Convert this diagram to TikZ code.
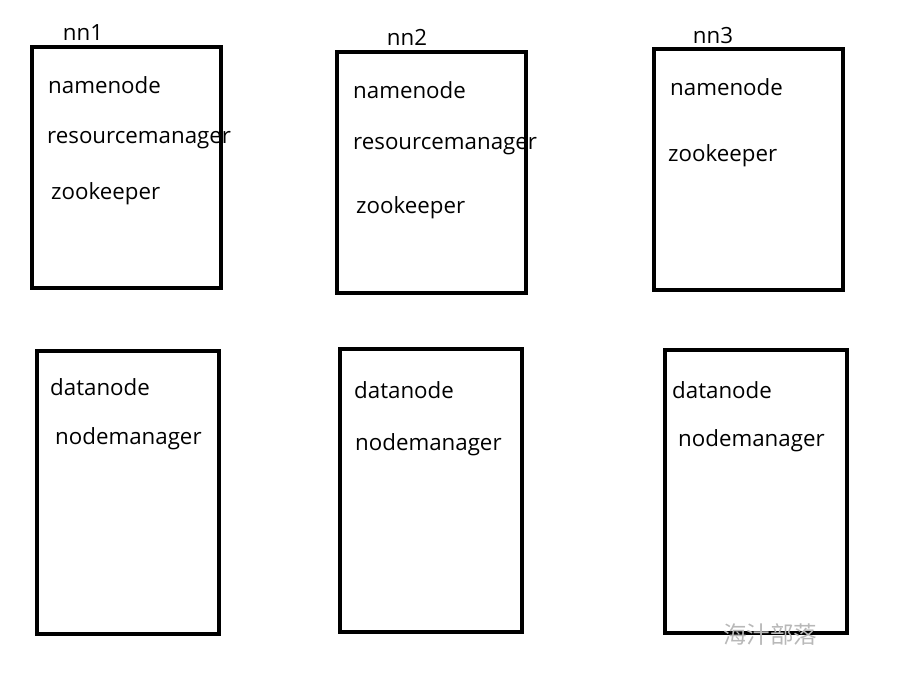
\documentclass[tikz,border=0pt]{standalone}
\usepackage{fontspec}
\setmainfont{Open Sans}
\newfontfamily\cjk{Noto Sans CJK SC}
\begin{document}
\begin{tikzpicture}[x=1pt,y=-1pt,
  line cap=round,line join=miter,
  every node/.style={font=\fontsize{22.3}{26}\selectfont,inner sep=0pt},
  box/.style={draw,line width=4pt,minimum width=189pt,minimum height=241pt,inner sep=0pt},
  lowbox/.style={draw,line width=4pt,minimum width=182pt,minimum height=283pt,inner sep=0pt},
  item/.style={anchor=base west},
  host/.style={anchor=base},
  wmark/.style={font=\cjk\fontsize{23.5}{26}\selectfont,text=black!28}]

  \useasboundingbox (0,0) rectangle (917,683);

  %% ---- top row: the three nn hosts
  \node[box] (nn1box) at (126.5,167.5) {};
  \node[box] (nn2box) at (431.5,172.5) {};
  \node[box] (nn3box) at (748.5,169) {};
  \node[host] (nn1) at (83,40) {nn1};
  \node[host] (nn2) at (407,45) {nn2};
  \node[host] (nn3) at (713,43) {nn3};
  % services on nn1
  \node[item] (nn1nn) at (48,93)  {namenode};
  \node[item] (nn1rm) at (47,143) {resourcemanager};
  \node[item] (nn1zk) at (51,199) {zookeeper};
  % services on nn2
  \node[item] (nn2nn) at (353,98)  {namenode};
  \node[item] (nn2rm) at (353,149) {resourcemanager};
  \node[item] (nn2zk) at (356,213) {zookeeper};
  % services on nn3
  \node[item] (nn3nn) at (670,95)  {namenode};
  \node[item] (nn3zk) at (668,161) {zookeeper};

  %% ---- bottom row: worker hosts
  \node[lowbox] (dn1box) at (128,492.5) {};
  \node[lowbox] (dn2box) at (431,490.5) {};
  \node[lowbox] (dn3box) at (756,491.5) {};
  \node[item] (dn1dn) at (50,395) {datanode};
  \node[item] (dn1nm) at (55,444) {nodemanager};
  \node[item] (dn2dn) at (354,398) {datanode};
  \node[item] (dn2nm) at (355,450) {nodemanager};
  \node[item] (dn3dn) at (672,398) {datanode};
  \node[item] (dn3nm) at (678,446) {nodemanager};

  %% ---- watermark
  \node[wmark] (wm) at (770,635) {海汁部落};
\end{tikzpicture}
\end{document}
